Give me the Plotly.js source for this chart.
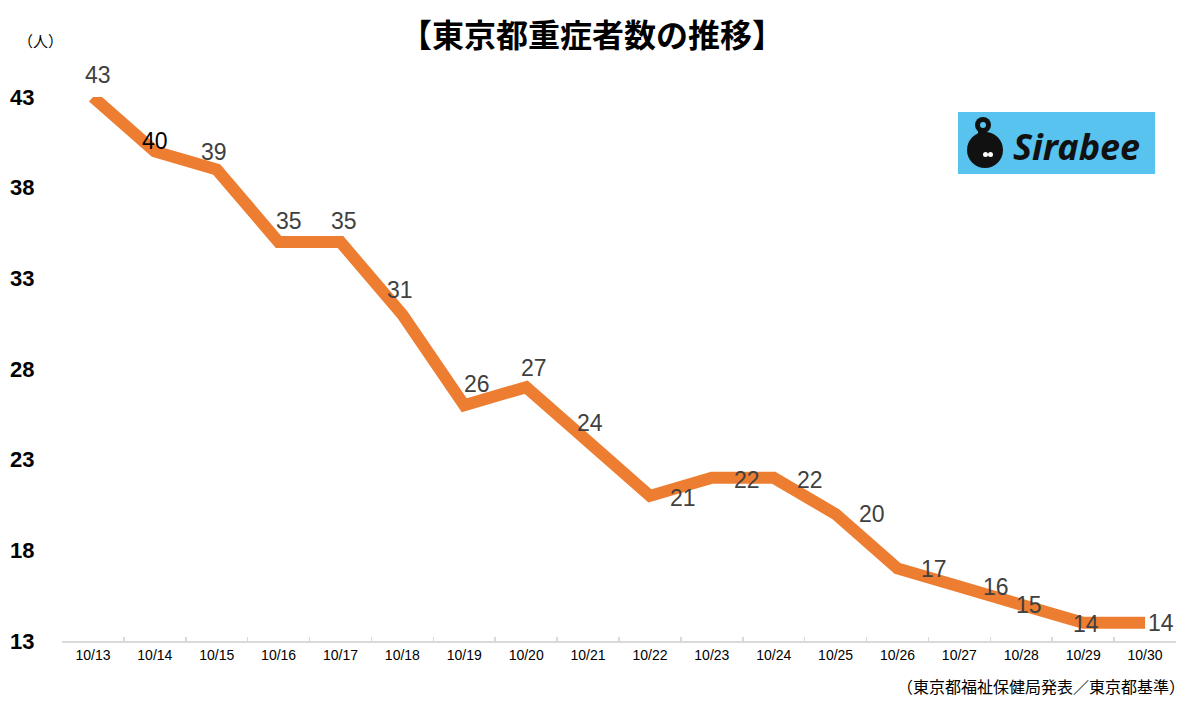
<!DOCTYPE html>
<html>
<head>
<meta charset="utf-8">
<script src="https://cdn.plot.ly/plotly-3.0.1.min.js"></script>
<style>html,body{margin:0;padding:0;background:#fff;}#chart{width:1200px;height:706px;}</style>
</head>
<body>
<div id="chart"></div>
<script>
// ---- data ----
const dates = ["10/13","10/14","10/15","10/16","10/17","10/18","10/19","10/20","10/21","10/22","10/23","10/24","10/25","10/26","10/27","10/28","10/29","10/30"];
const severe = [43,40,39,35,35,31,26,27,24,21,22,22,20,17,16,15,14,14];
const yTicks = [13,18,23,28,33,38,43];

// ---- label styling (pixel offsets of data labels) ----
const labelDx = [5,0,-3,10,3,-2,13,8,2,33,35,36,36,36,37,8,3,16];
const labelDy = [-22,-10,-18,-21,-21,-25,-21,-19,-19,2,2,2,0,1,0,0,1,0];
const labelColor = severe.map((v,i)=> i===1 ? '#000000' : '#404040');

const FONT = '"Noto Sans CJK JP", "Noto Sans", sans-serif';
const LABELFONT = '"Liberation Sans", Arial, sans-serif';

const trace = {
  x: dates, y: severe, type: 'scatter', mode: 'lines',
  line: {color: '#ED7D31', width: 12, shape: 'linear'},
  cliponaxis: false, hoverinfo: 'skip'
};

const annotations = dates.map((d,i)=>({
  x: d, y: severe[i], xref: 'x', yref: 'y', text: String(severe[i]),
  showarrow: false, xshift: labelDx[i], yshift: -labelDy[i],
  font: {family: LABELFONT, size: 23, color: labelColor[i]}
}));

// plot area: x 62..1176, y 97..641
function px(x){ return (x-62)/1114; }
function py(y){ return (641-y)/544; }

annotations.push({
  xref: 'paper', yref: 'paper', x: px(592), y: py(33), xanchor: 'center', yanchor: 'middle',
  text: '<b>【東京都重症者数の推移】</b>', showarrow: false,
  font: {family: FONT, size: 32, color: '#000'}
});
annotations.push({
  xref: 'paper', yref: 'paper', x: px(40), y: py(40), xanchor: 'center', yanchor: 'middle',
  text: '（人）', showarrow: false, font: {family: FONT, size: 15, color: '#000'}
});
annotations.push({
  xref: 'paper', yref: 'paper', x: px(1187), y: py(686), xanchor: 'right', yanchor: 'middle',
  text: '（東京都福祉保健局発表／東京都基準）', showarrow: false, font: {family: FONT, size: 16, color: '#000'}
});
// logo text
annotations.push({
  xref: 'paper', yref: 'paper', x: px(1076), y: py(146), xanchor: 'center', yanchor: 'middle',
  text: '<b><i>Sirabee</i></b>', showarrow: false,
  font: {family: '"Noto Sans", "DejaVu Sans", sans-serif', size: 36, color: '#111'}
});

const shapes = [
  {type:'rect', xref:'paper', yref:'paper', x0:px(958), x1:px(1155), y0:py(174), y1:py(112), fillcolor:'#57C3EE', line:{width:0}, layer:'below'},
  {type:'circle', xref:'paper', yref:'paper', x0:px(967), x1:px(1003), y0:py(168), y1:py(132), fillcolor:'#111', line:{width:0}},
  {type:'rect', xref:'paper', yref:'paper', x0:px(978), x1:px(987), y0:py(138), y1:py(126), fillcolor:'#111', line:{width:0}},
  {type:'circle', xref:'paper', yref:'paper', x0:px(975), x1:px(991), y0:py(133), y1:py(117), fillcolor:'#111', line:{width:0}},
  {type:'circle', xref:'paper', yref:'paper', x0:px(980), x1:px(986), y0:py(128), y1:py(122), fillcolor:'#57C3EE', line:{width:0}},
  {type:'circle', xref:'paper', yref:'paper', x0:px(983), x1:px(988), y0:py(157), y1:py(152), fillcolor:'#fff', line:{width:0}},
  {type:'circle', xref:'paper', yref:'paper', x0:px(988), x1:px(993), y0:py(157), y1:py(152), fillcolor:'#fff', line:{width:0}}
];

const layout = {
  width: 1200, height: 706,
  paper_bgcolor: '#fff', plot_bgcolor: '#fff',
  margin: {l: 62, r: 24, t: 97, b: 65},
  showlegend: false,
  xaxis: {
    type: 'category', categoryarray: dates, range: [-0.5, dates.length - 0.5],
    showgrid: false, zeroline: false,
    showline: true, linecolor: '#D9D9D9', linewidth: 2,
    ticks: 'inside', ticklen: 4, tickcolor: '#D9D9D9', tickwidth: 1.5, tickson: 'boundaries',
    tickfont: {family: LABELFONT, size: 14, color: '#000'}, fixedrange: true
  },
  yaxis: {
    range: [13, 43], tickvals: yTicks, ticktext: yTicks.map(String),
    showgrid: false, zeroline: false, showline: false,
    ticks: 'outside', ticklen: 22, tickcolor: 'rgba(0,0,0,0)',
    tickfont: {family: LABELFONT, size: 22, color: '#000', weight: 'bold'}, fixedrange: true
  },
  annotations: annotations,
  shapes: shapes
};

Plotly.newPlot('chart', [trace], layout, {displayModeBar: false, staticPlot: true});
</script>
</body>
</html>
